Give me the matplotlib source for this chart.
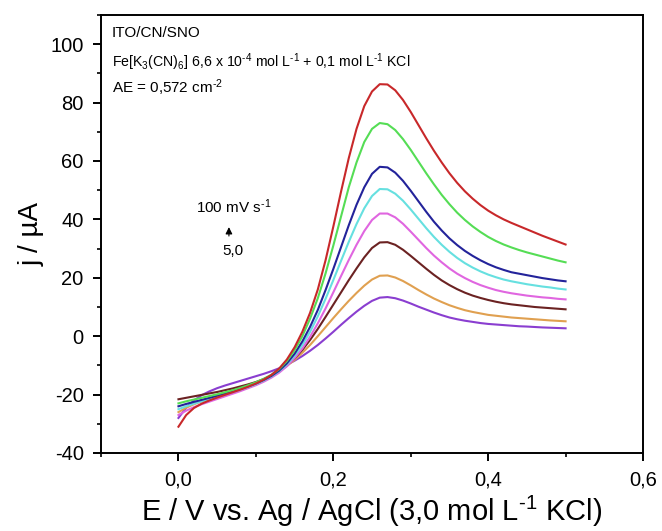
import matplotlib
matplotlib.use("Agg")
import matplotlib.pyplot as plt
from matplotlib.ticker import MultipleLocator

plt.rcParams['font.family'] = ['Liberation Sans', 'DejaVu Sans']
plt.rcParams['mathtext.fontset'] = 'custom'
plt.rcParams['mathtext.rm'] = 'Liberation Sans'
plt.rcParams['mathtext.it'] = 'Liberation Sans'
plt.rcParams['mathtext.default'] = 'regular'
plt.rcParams['axes.unicode_minus'] = False

# potential (V vs Ag/AgCl), 10 mV steps
E = [0.00, 0.01, 0.02, 0.03, 0.04, 0.05, 0.06, 0.07, 0.08, 0.09,
     0.10, 0.11, 0.12, 0.13, 0.14, 0.15, 0.16, 0.17, 0.18, 0.19,
     0.20, 0.21, 0.22, 0.23, 0.24, 0.25, 0.26, 0.27, 0.28, 0.29,
     0.30, 0.31, 0.32, 0.33, 0.34, 0.35, 0.36, 0.37, 0.38, 0.39,
     0.40, 0.41, 0.42, 0.43, 0.44, 0.45, 0.46, 0.47, 0.48, 0.49, 0.50]

# current (uA) for each scan rate, 100 mV/s down to 5 mV/s
j_100 = [-31, -27, -24.6, -23.1, -22, -21, -20.1, -19.2, -18.3, -17.3,
         -16.2, -14.9, -13.3, -11.1, -8, -3.8, 1.5, 8, 16, 26,
         37.5, 49.5, 61, 71, 78.8, 83.8, 86.3, 86.2, 84.2, 80.9,
         76.8, 72.3, 67.8, 63.5, 59.5, 55.8, 52.5, 49.6, 47.1, 44.9,
         43, 41.4, 40, 38.8, 37.7, 36.6, 35.5, 34.4, 33.4, 32.4, 31.4]
j_80 = [-23, -22.3, -21.7, -21.1, -20.5, -19.9, -19.2, -18.5, -17.7, -16.8,
        -15.8, -14.6, -13.2, -11.3, -8.5, -4.8, 0, 6, 13, 21.5,
        31, 41, 51, 59.5, 66.5, 71, 73, 72.6, 70.6, 67.5,
        63.8, 59.8, 55.8, 52, 48.4, 45.2, 42.3, 39.8, 37.6, 35.7,
        34, 32.6, 31.4, 30.4, 29.5, 28.7, 28, 27.3, 26.6, 25.9, 25.3]
j_60 = [-24, -23.2, -22.5, -21.8, -21.1, -20.4, -19.7, -18.9, -18.1, -17.2,
        -16.2, -15, -13.6, -11.8, -9.3, -6, -1.8, 3.2, 9, 15.8,
        23, 30.5, 38, 45, 51, 55.6, 58, 57.8, 56, 53.2,
        49.8, 46.2, 42.6, 39.2, 36.2, 33.5, 31.2, 29.2, 27.5, 26,
        24.7, 23.6, 22.7, 21.9, 21.4, 20.9, 20.4, 19.9, 19.5, 19.1, 18.8]
j_50 = [-25, -24, -23.1, -22.3, -21.5, -20.7, -19.9, -19.1, -18.3, -17.4,
        -16.4, -15.2, -13.8, -12, -9.7, -6.7, -3, 1.5, 6.8, 12.8,
        19.2, 25.8, 32.3, 38.4, 43.8, 48, 50.4, 50.3, 48.8, 46.4,
        43.4, 40.2, 37, 34, 31.3, 28.9, 26.8, 25, 23.5, 22.2,
        21.1, 20.2, 19.4, 18.8, 18.3, 17.8, 17.4, 17, 16.7, 16.3, 16]
j_40 = [-27, -25.5, -24.3, -23.3, -22.4, -21.5, -20.6, -19.7, -18.8, -17.8,
        -16.8, -15.6, -14.2, -12.5, -10.3, -7.5, -4.2, -0.2, 4.4, 9.5,
        15, 20.6, 26.1, 31.3, 36, 39.8, 42, 42, 40.7, 38.5,
        35.8, 33, 30.2, 27.6, 25.3, 23.2, 21.4, 19.9, 18.6, 17.5,
        16.6, 15.8, 15.2, 14.7, 14.3, 13.9, 13.6, 13.3, 13.1, 12.8, 12.6]
j_25 = [-21.6, -21.1, -20.6, -20.1, -19.6, -19.1, -18.5, -17.9, -17.2, -16.5,
        -15.7, -14.7, -13.5, -12, -10, -7.6, -4.7, -1.3, 2.5, 6.6,
        10.8, 15, 19.2, 23.2, 27, 30.2, 32.1, 32.2, 31.3, 29.6,
        27.5, 25.3, 23.1, 21, 19.1, 17.5, 16.1, 14.9, 13.9, 13.1,
        12.4, 11.8, 11.3, 10.9, 10.6, 10.3, 10, 9.8, 9.6, 9.4, 9.2]
j_10 = [-26, -24.5, -23.3, -22.3, -21.4, -20.5, -19.6, -18.7, -17.8, -16.9,
        -15.9, -14.8, -13.5, -12, -10.2, -8.1, -5.7, -3, 0, 3.1,
        6.2, 9.2, 12.1, 14.8, 17.3, 19.4, 20.7, 20.8, 20.1, 18.9,
        17.4, 15.8, 14.3, 12.9, 11.7, 10.6, 9.7, 8.9, 8.3, 7.8,
        7.3, 7, 6.7, 6.4, 6.2, 6, 5.8, 5.6, 5.4, 5.25, 5.1]
j_5 = [-28, -24.5, -22, -20.2, -18.9, -17.8, -16.9, -16.1, -15.3, -14.5,
       -13.7, -12.9, -12, -11, -9.8, -8.4, -6.8, -5, -3, -0.8,
       1.5, 3.9, 6.2, 8.4, 10.4, 12.1, 13.2, 13.4, 13, 12.2,
       11.2, 10.1, 9.1, 8.1, 7.2, 6.4, 5.8, 5.3, 4.9, 4.5,
       4.2, 4, 3.8, 3.6, 3.4, 3.3, 3.15, 3, 2.9, 2.8, 2.7]

series = [j_5, j_10, j_25, j_40, j_50, j_60, j_80, j_100]
colors = ['#8a3ed0', '#e0a050', '#6b2222', '#e066e0', '#66e0e0', '#23239a', '#55dd55', '#c8282a']

xticks = [0.0, 0.2, 0.4, 0.6]
xticklabels = ['0,0', '0,2', '0,4', '0,6']
yticks = [-40, -20, 0, 20, 40, 60, 80, 100]

HY = '\u2010'  # short hyphen for the superscript exponents

fig = plt.figure(figsize=(6.62, 5.31), dpi=100)
ax = fig.add_axes([0.1526, 0.1469, 0.8187, 0.8249])

for j, c in zip(series, colors):
    ax.plot(E, j, color=c, linewidth=1.5, solid_joinstyle='round')

ax.set_xlim(-0.1, 0.6)
ax.set_ylim(-40, 110)
ax.set_xticks(xticks)
ax.set_xticklabels(xticklabels)
ax.set_yticks(yticks)
ax.xaxis.set_minor_locator(MultipleLocator(0.1))
ax.yaxis.set_minor_locator(MultipleLocator(10))
ax.tick_params(which='major', direction='out', length=5.5, width=1.4, labelsize=14.5, pad=7)
ax.tick_params(which='minor', direction='out', length=3, width=1.2)
for s in ax.spines.values():
    s.set_linewidth(1.4)

ax.set_xlabel('E / V vs. Ag / AgCl (3,0 mol L$^{' + HY + '1}$ KCl)', fontsize=21, labelpad=3)
ax.set_ylabel('j / µA', fontsize=20, labelpad=4)

ax.text(0.02, 0.950, 'ITO/CN/SNO', transform=ax.transAxes, fontsize=11, va='baseline')
ax.text(0.02, 0.881, 'Fe[K$_3$(CN)$_6$] 6,6 x 10$^{' + HY + '4}$ mol L$^{' + HY + '1}$ + 0,1 mol L$^{' + HY + '1}$ KCl',
        transform=ax.transAxes, fontsize=10.2, va='baseline')
ax.text(0.02, 0.822, 'AE = 0,572 cm$^{' + HY + '2}$', transform=ax.transAxes, fontsize=11, va='baseline')

ax.text(0.244, 0.548, '100 mV s$^{' + HY + '1}$', transform=ax.transAxes, fontsize=11, ha='center', va='baseline')
ax.annotate('', xy=(0.236, 0.522), xytext=(0.236, 0.489), xycoords='axes fraction',
            arrowprops=dict(arrowstyle='-|>', color='black', lw=0.8, mutation_scale=10))
ax.text(0.244, 0.452, '5,0', transform=ax.transAxes, fontsize=11, ha='center', va='baseline')

fig.savefig('out.png', dpi=100)
